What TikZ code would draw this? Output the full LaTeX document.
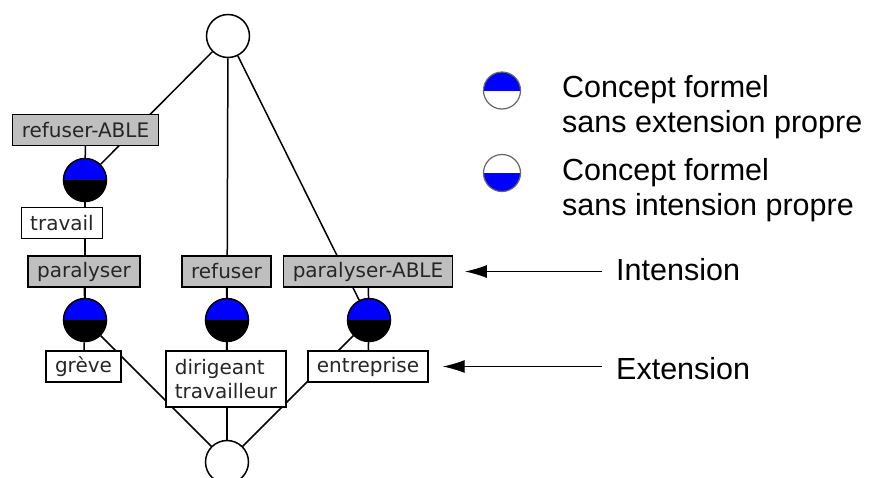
\documentclass[tikz,border=0pt]{standalone}
\usepackage{fontspec}
\newfontfamily\labelfont{DejaVu Sans}
\newfontfamily\legendfont{Liberation Sans}
\usetikzlibrary{arrows.meta,backgrounds}
\tikzset{
  concept/.style={circle, draw, line width=1.5pt, minimum size=43pt, inner sep=0pt,
    path picture={
      \fill[blue] (path picture bounding box.west) rectangle (path picture bounding box.north east);
      \fill[black] (path picture bounding box.west) rectangle (path picture bounding box.south east);}},
  emptyconcept/.style={circle, draw, fill=white, line width=1.5pt, minimum size=43pt, inner sep=0pt},
  intentbox/.style={draw, fill=black!25, line width=1.3pt, text=black!85, inner xsep=9pt,
    minimum height=31pt, font=\labelfont\fontsize{20}{24}\selectfont},
  extentbox/.style={intentbox, fill=white},
  keytop/.style={circle, draw=black!60, line width=1.2pt, minimum size=37pt, inner sep=0pt,
    path picture={
      \fill[blue] (path picture bounding box.west) rectangle (path picture bounding box.north east);}},
  keybottom/.style={keytop,
    path picture={
      \fill[blue] (path picture bounding box.west) rectangle (path picture bounding box.south east);}},
  keytext/.style={inner sep=0pt, align=left, font=\legendfont\fontsize{30.5}{35}\selectfont},
  pointer/.style={-{Latex[length=22pt,width=13pt]}, line width=1.1pt},
  edge/.style={line width=1.5pt}
}

\begin{document}
\begin{tikzpicture}[x=1pt,y=-1pt]
	\clip (0,0) rectangle (876,477);
	
	% concepts
	\node[emptyconcept] (top) at (228,36) {};
	\node[concept] (c1) at (85,180) {};
	\node[concept] (c2) at (85,320) {};
	\node[concept] (c3) at (227,320) {};
	\node[concept] (c4) at (369,320) {};
	\node[emptyconcept] (bot) at (227,462) {};
	
	% intents and extents
	\node[intentbox] (lrefable) at (85.5,130) {refuser-ABLE};
	\node[extentbox] (ltravail) at (62,223) {travail};
	\node[intentbox] (lpar) at (84,271.5) {paralyser};
	\node[intentbox] (lref) at (226.5,271.5) {refuser};
	\node[intentbox] (lparable) at (368,271.5) {paralyser-ABLE};
	\node[extentbox] (lgreve) at (83.5,366.5) {grève};
	\node[extentbox, align=left, minimum height=56pt] (ldir) at (226,379) {dirigeant\\travailleur};
	\node[extentbox] (lentr) at (368,366.5) {entreprise};
	
	\begin{scope}[on background layer]
		\draw[edge] (top) -- (c1);
		\draw[edge] (top) -- (c3);
		\draw[edge] (top) -- (c4);
		\draw[edge] (c1) -- (c2);
		\draw[edge] (c2) -- (bot);
		\draw[edge] (c3) -- (bot);
		\draw[edge] (c4) -- (bot);
		
		\draw[edge] (lrefable) -- (c1);
		\draw[edge] (lpar) -- (c2);
		\draw[edge] (c2) -- (lgreve);
		\draw[edge] (lref) -- (c3);
		\draw[edge] (c3) -- (ldir);
		\draw[edge] (lparable) -- (c4);
		\draw[edge] (c4) -- (lentr);
	\end{scope}
	
	% legend
	\node[keytop] (kext) at (502,90.5) {};
	\node[keybottom] (kint) at (502,173) {};
	\node[keytext, anchor=base west] (text1) at (562,132) {Concept formel\\sans extension propre};
	\node[keytext, anchor=base west] (text2) at (562,215) {Concept formel\\sans intension propre};
	
	\node[keytext, anchor=base west] (tint) at (616,280) {Intension};
	\node[keytext, anchor=base west] (text) at (616,379) {Extension};
	
	\draw[pointer, shorten <=14pt, shorten >=12pt] (tint.west |- lparable.east) -- (lparable.east);
	\draw[pointer, shorten <=14pt, shorten >=14pt] (text.west |- lentr.east) -- (lentr.east);
\end{tikzpicture}
\end{document}
